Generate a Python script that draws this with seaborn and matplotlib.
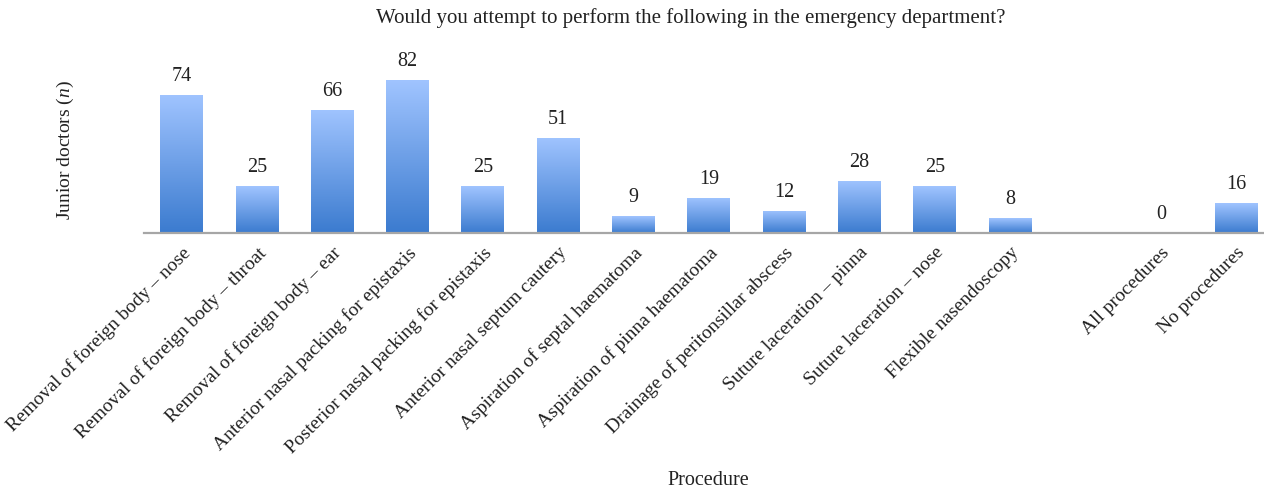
import numpy as np
import pandas as pd
import matplotlib
matplotlib.use("Agg")
import matplotlib.pyplot as plt
import seaborn as sns
from matplotlib.colors import LinearSegmentedColormap

categories = [
    "Removal of foreign body – nose",
    "Removal of foreign body – throat",
    "Removal of foreign body – ear",
    "Anterior nasal packing for epistaxis",
    "Posterior nasal packing for epistaxis",
    "Anterior nasal septum cautery",
    "Aspiration of septal haematoma",
    "Aspiration of pinna haematoma",
    "Drainage of peritonsillar abscess",
    "Suture laceration – pinna",
    "Suture laceration – nose",
    "Flexible nasendoscopy",
    "All procedures",
    "No procedures",
]
values = [74, 25, 66, 82, 25, 51, 9, 19, 12, 28, 25, 8, 0, 16]
order = categories[:12] + [" "] + categories[12:]

title = "Would you attempt to perform the following in the emergency department?"
ylabel = "Junior doctors ($\\it{n}$)"
xlabel = "Procedure"

sns.set_theme(style="white")
plt.rcParams["font.family"] = ["Liberation Serif", "DejaVu Serif"]
plt.rcParams["mathtext.fontset"] = "custom"
plt.rcParams["mathtext.it"] = "Liberation Serif:italic"
plt.rcParams["mathtext.rm"] = "Liberation Serif"

df = pd.DataFrame({"cat": categories, "val": values})

fig = plt.figure(figsize=(12.64, 4.90), dpi=100)
ax = fig.add_axes([144 / 1264, 1 - 233 / 490, (1264 - 144) / 1264, (233 - 65.1) / 490])
sns.barplot(data=df, x="cat", y="val", order=order, ax=ax, width=0.57,
            color="#6A9EE8", edgecolor="none", saturation=1)

cmap = LinearSegmentedColormap.from_list("g", ["#3B7BCF", "#A0C4FF"])
grad = np.linspace(0, 1, 256).reshape(-1, 1)
for p in ax.patches:
    h = p.get_height()
    if h <= 0 or np.isnan(h):
        continue
    x0 = p.get_x(); w = p.get_width()
    im = ax.imshow(grad, cmap=cmap, aspect="auto", origin="lower",
                   extent=[x0, x0 + w, 0, h], zorder=3)
    im.set_clip_path(p)
    p.set_facecolor("none")

for i, c in enumerate(order):
    if c in categories:
        v = values[categories.index(c)]
        ax.annotate(str(v), (i, v), xytext=(0, 6.5), textcoords="offset points",
                    ha="center", va="bottom", fontsize=14.5, color="#222222")

ax.set_xlim(-0.5, 14.37)
ax.set_ylim(0, 90)
ax.set_yticks([])
for s in ["left", "top", "right"]:
    ax.spines[s].set_visible(False)
ax.spines["bottom"].set_color("#A6A6A6")
ax.spines["bottom"].set_linewidth(1.6)
ax.spines["bottom"].set_zorder(5)
ax.tick_params(axis="x", length=0, pad=8)
ax.set_xticks(range(len(order)))
ax.set_xticklabels(order, rotation=45, ha="right", rotation_mode="anchor",
                   fontsize=14, color="#222222")
ax.set_xlabel("")
ax.set_ylabel("")
fig.text(708 / 1264, 1 - 480 / 490, xlabel, ha="center", va="center", fontsize=14.5, color="#222222")
fig.text(65 / 1264, 1 - 150 / 490, ylabel, ha="center", va="center", rotation=90,
         fontsize=14, color="#222222")
fig.text(691 / 1264, 1 - 18 / 490, title, ha="center", va="center", fontsize=15, color="#222222")

fig.savefig("out.png", dpi=100)
